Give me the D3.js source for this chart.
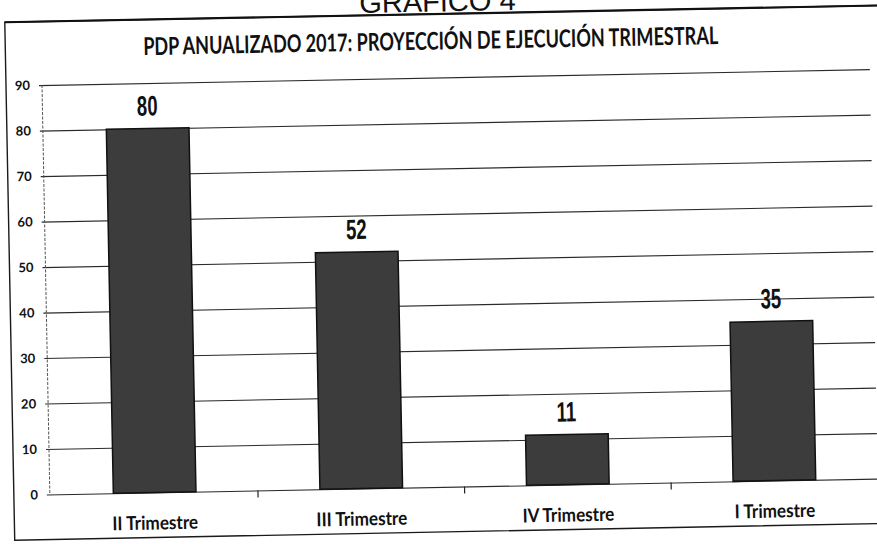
<!DOCTYPE html>
<html>
<head>
<meta charset="utf-8">
<script src="https://cdn.jsdelivr.net/npm/d3@7"></script>
<style>
  html, body { margin: 0; padding: 0; background: #fff; }
  svg { display: block; }
</style>
</head>
<body>
<svg id="chart" width="877" height="544"></svg>
<script>
// ---- data ----
const docHeading = "GRÁFICO 4";
const chartTitle = "PDP ANUALIZADO 2017: PROYECCIÓN DE EJECUCIÓN TRIMESTRAL";
const categories = ["II Trimestre", "III Trimestre", "IV Trimestre", "I Trimestre"];
const values = [80, 52, 11, 35];
const yTicks = [0, 10, 20, 30, 40, 50, 60, 70, 80, 90];

// ---- layout ----
const W = 877, H = 544;
const plot = { left: 46, right: 874, top: 77.5, bottom: 487 };

const svg = d3.select("#chart");
svg.append("rect").attr("width", W).attr("height", H).attr("fill", "#fff");

// scanned page is slightly tilted
const g = svg.append("g").attr("transform", "rotate(-1.1, 438, 290)");

// document heading (partially cut by the page top)
g.append("text")
  .attr("x", 443).attr("y", 11.5)
  .attr("text-anchor", "middle")
  .attr("font-family", "Liberation Sans, Arial, sans-serif")
  .attr("font-size", 29)
  .attr("fill", "#111")
  .text(docHeading);

// chart frame
g.append("rect")
  .attr("x", 10).attr("y", 14)
  .attr("width", 880).attr("height", 518)
  .attr("fill", "none")
  .attr("stroke", "#1a1a1a")
  .attr("stroke-width", 1.4);
g.append("line")
  .attr("x1", 10).attr("x2", 890).attr("y1", 14).attr("y2", 14)
  .attr("stroke", "#111").attr("stroke-width", 2.2);

// title
g.append("text")
  .attr("x", 435.5).attr("y", 49.5)
  .attr("text-anchor", "middle")
  .attr("font-family", "Lato, 'Open Sans', sans-serif")
  .attr("font-weight", 700)
  .attr("font-size", 24.5)
  .attr("fill", "#111")
  .attr("textLength", 575)
  .attr("lengthAdjust", "spacingAndGlyphs")
  .text(chartTitle);

// scales
const x = d3.scaleBand().domain(categories).range([plot.left + 1.5, plot.right]).padding(0);
const y = d3.scaleLinear().domain([0, 90]).range([plot.bottom, plot.top]);
const barW = x.step() * 0.4;

// y axis with gridlines
const yAxis = g.append("g")
  .attr("transform", `translate(${plot.left},0)`)
  .call(d3.axisLeft(y).tickValues(yTicks).tickSize(-(plot.right - plot.left)).tickPadding(12));
yAxis.select(".domain").remove();
yAxis.selectAll(".tick line")
  .attr("x1", -3)
  .attr("stroke", "#2a2a2a")
  .attr("stroke-width", 1.1);
yAxis.selectAll(".tick text")
  .attr("font-family", "Lato, 'Open Sans', sans-serif")
  .attr("font-weight", 700)
  .attr("font-size", 13)
  .attr("fill", "#111");

// vertical axis line (light dotted in the scan)
g.append("line")
  .attr("x1", plot.left).attr("x2", plot.left)
  .attr("y1", y(90)).attr("y2", y(0))
  .attr("stroke", "#555").attr("stroke-width", 1)
  .attr("stroke-dasharray", "3,1.5");

// x axis category tick marks (band boundaries)
const boundaries = categories.map(c => x(c)).concat([x(categories[categories.length - 1]) + x.step()]);
g.append("g").selectAll("line")
  .data(boundaries.slice(1))
  .join("line")
  .attr("x1", d => d).attr("x2", d => d)
  .attr("y1", y(0)).attr("y2", y(0) + 7)
  .attr("stroke", "#222").attr("stroke-width", 1.2);

// bars
g.append("g").selectAll("rect")
  .data(values)
  .join("rect")
  .attr("x", (d, i) => x(categories[i]) + (x.step() - barW) / 2)
  .attr("y", d => y(d))
  .attr("width", barW)
  .attr("height", d => y(0) - y(d))
  .attr("fill", "#3c3c3c")
  .attr("stroke", "#111")
  .attr("stroke-width", 1.5);

// value labels (condensed bold)
const condense = (sel, f) => sel.each(function () {
  const L = this.getComputedTextLength();
  d3.select(this).attr("textLength", L * f).attr("lengthAdjust", "spacingAndGlyphs");
});
g.append("g").selectAll("text")
  .data(values)
  .join("text")
  .attr("x", (d, i) => x(categories[i]) + x.step() / 2)
  .attr("y", d => y(d) - 13)
  .attr("text-anchor", "middle")
  .attr("font-family", "'Liberation Sans', Arial, sans-serif")
  .attr("font-weight", 700)
  .attr("font-size", 28)
  .attr("fill", "#111")
  .text(d => d)
  .call(condense, 0.66);

// category labels
g.append("g").selectAll("text")
  .data(categories)
  .join("text")
  .attr("x", d => x(d) + x.step() / 2)
  .attr("y", 524)
  .attr("text-anchor", "middle")
  .attr("font-family", "Lato, 'Open Sans', sans-serif")
  .attr("font-weight", 700)
  .attr("font-size", 19)
  .attr("fill", "#111")
  .text(d => d)
  .call(condense, 0.9);
</script>
</body>
</html>
